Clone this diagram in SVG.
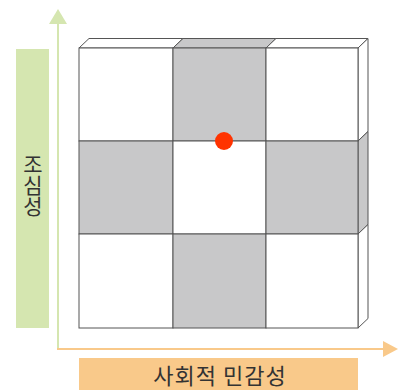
<svg xmlns="http://www.w3.org/2000/svg" width="398" height="390" viewBox="0 0 398 390">
<style>
.w{fill:#ffffff;stroke:#555;stroke-width:1}
.g{fill:#c8c8c9;stroke:#555;stroke-width:1}
.lbl{font-family:"Noto Sans CJK KR","Noto Sans",sans-serif;fill:#333}
</style>
<rect width="398" height="390" fill="#fff"/>
<g id="y-axis-label">
<rect x="16" y="49" width="33" height="279" fill="#d5e6b0"/>
<text class="lbl" x="33" y="154" font-size="21" writing-mode="vertical-rl" style="writing-mode:vertical-rl;text-orientation:upright">조심성</text>
</g>
<g id="x-axis-label">
<rect x="79" y="358" width="279" height="32" fill="#f9c98a"/>
<text class="lbl" x="220" y="384" font-size="22" letter-spacing="1" text-anchor="middle">사회적 민감성</text>
</g>
<g id="connectors">
<line x1="58" y1="349" x2="58" y2="22" stroke="#d5e6b0" stroke-width="2"/>
<polygon points="49,24 67,24 58,9" fill="#d5e6b0"/>
<line x1="57" y1="349" x2="385" y2="349" stroke="#f9c98a" stroke-width="2"/>
<polygon points="383,341 383,357 398,349" fill="#f9c98a"/>
</g>
<g id="grid">
<polygon class="w" points="79,48 89,38.5 183,38.5 173,48"/>
<polygon class="g" points="173,48 183,38.5 276,38.5 266,48"/>
<polygon class="w" points="266,48 276,38.5 368,38.5 358,48"/>
<polygon class="w" points="358,48 368,38.5 368,131.5 358,141"/>
<polygon class="g" points="358,141 368,131.5 368,224.5 358,234"/>
<polygon class="w" points="358,234 368,224.5 368,318.5 358,328"/>
<rect id="c11" class="w" x="79" y="48" width="94" height="93"/>
<rect id="c12" class="g" x="173" y="48" width="93" height="93"/>
<rect id="c13" class="w" x="266" y="48" width="92" height="93"/>
<rect id="c21" class="g" x="79" y="141" width="94" height="93"/>
<rect id="c22" class="w" x="173" y="141" width="93" height="93"/>
<rect id="c23" class="g" x="266" y="141" width="92" height="93"/>
<rect id="c31" class="w" x="79" y="234" width="94" height="94"/>
<rect id="c32" class="g" x="173" y="234" width="93" height="94"/>
<rect id="c33" class="w" x="266" y="234" width="92" height="94"/>
</g>
<g id="dot">
<circle cx="224" cy="141" r="9" fill="#ff3300"/>
</g>
</svg>
